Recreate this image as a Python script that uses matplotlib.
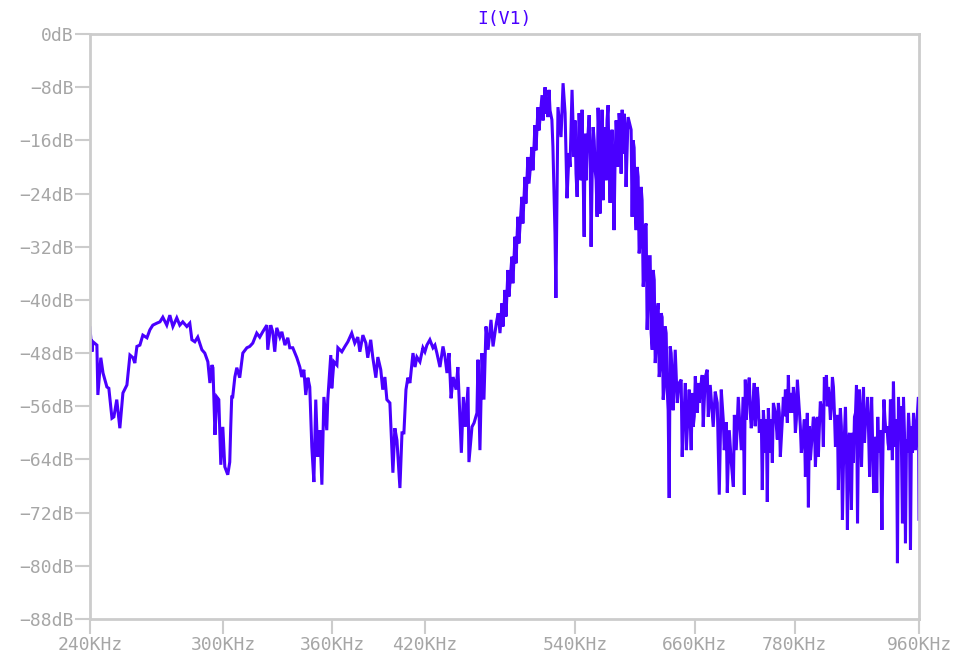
import numpy as np
import matplotlib.pyplot as plt

# FFT of I(V1): frequency in kHz, magnitude in dB
freq_khz = [
    240.0, 240.8, 241.2, 242.8, 243.2, 244.4, 245.3, 246.9, 247.7, 249.0,
    249.8, 251.0, 252.3, 253.6, 255.3, 256.6, 257.9, 258.7, 259.6, 260.9,
    262.2, 264.0, 265.3, 266.6, 268.4, 269.8, 271.1, 272.9, 274.3, 275.7,
    277.5, 278.9, 280.3, 282.2, 283.6, 284.6, 286.0, 287.4, 289.4, 290.8,
    292.3, 293.3, 294.3, 294.8, 295.8, 296.7, 297.7, 298.7, 299.7, 300.7,
    302.2, 303.2, 303.7, 304.2, 304.7, 305.8, 306.8, 308.3, 309.9, 312.0,
    313.5, 315.1, 317.2, 318.8, 320.4, 322.6, 323.1, 324.7, 325.8, 326.9,
    328.0, 329.7, 330.8, 332.5, 334.1, 335.2, 336.9, 339.2, 340.9, 342.0,
    343.2, 344.3, 345.5, 346.6, 347.8, 349.0, 350.1, 351.3, 352.5, 353.7,
    354.9, 356.6, 357.2, 359.0, 359.6, 360.9, 362.7, 363.3, 365.7, 367.6,
    369.4, 371.8, 373.7, 375.6, 376.9, 378.8, 380.7, 381.9, 383.8, 385.1,
    387.1, 388.4, 390.3, 391.6, 393.0, 394.3, 396.3, 398.3, 399.6, 401.0,
    403.0, 404.4, 405.7, 407.1, 408.4, 409.8, 411.9, 413.3, 414.6, 416.7,
    418.8, 420.2, 421.6, 423.7, 425.9, 427.3, 428.7, 430.9, 433.1, 434.6,
    436.0, 437.5, 439.0, 440.5, 442.7, 444.0, 446.6, 448.1, 449.6, 451.6,
    452.3, 454.6, 456.2, 458.4, 459.2, 460.7, 462.3, 463.8, 465.4, 467.0,
    469.3, 470.9, 473.5, 475.0, 476.4, 478.0, 480.4, 482.8, 486.0, 488.5,
    490.9, 494.2, 496.7, 499.2, 502.6, 505.1, 507.7, 511.1, 513.7, 515.4,
    517.1, 519.6, 520.5, 522.3, 523.1, 524.9, 527.6, 529.4, 531.2, 532.9,
    534.7, 537.4, 539.2, 542.0, 543.8, 546.5, 548.4, 551.1, 553.0, 554.8,
    556.7, 558.6, 560.4, 561.3, 563.2, 565.1, 566.0, 567.9, 570.8, 572.7,
    574.6, 576.5, 579.5, 581.4, 584.4, 586.3, 588.2, 590.2, 593.2, 594.2,
    596.2, 598.2, 599.2, 601.2, 603.2, 605.3, 607.3, 609.3, 611.4, 614.5,
    615.5, 617.6, 619.6, 621.7, 624.8, 625.9, 629.0, 631.1, 632.2, 634.3,
    636.4, 638.6, 640.8, 642.8, 646.1, 648.3, 650.6, 652.6, 655.9, 658.1,
    661.6, 663.7, 665.9, 668.1, 669.2, 671.5, 673.7, 674.9, 677.1, 680.5,
    682.8, 685.1, 687.4, 689.7, 692.0, 693.2, 695.5, 696.7, 699.0, 701.4,
    703.8, 705.0, 707.2, 709.6, 713.2, 715.6, 716.8, 718.0, 720.4, 722.8,
    725.2, 727.6, 728.8, 731.3, 732.5, 735.0, 738.7, 740.0, 742.5, 744.9,
    746.2, 748.7, 751.2, 752.5, 756.3, 758.8, 761.3, 765.2, 767.8, 770.3,
    771.6, 775.5, 778.1, 780.7, 783.3, 785.9, 788.5, 791.2, 793.9, 796.5,
    797.9, 800.5, 804.5, 807.3, 810.0, 811.3, 814.0, 818.1, 819.5, 822.3,
    825.0, 827.8, 830.6, 832.0, 834.8, 837.5, 838.9, 841.7, 844.6, 846.0,
    848.9, 851.7, 853.1, 857.4, 860.3, 861.8, 864.7, 866.2, 869.0, 872.0,
    874.9, 876.4, 879.4, 880.9, 883.9, 886.9, 889.9, 891.5, 894.5, 896.0,
    899.2, 902.3, 905.3, 908.4, 911.5, 913.0, 915.2, 918.2, 919.8, 922.9,
    926.0, 927.6, 930.7, 933.8, 935.4, 938.5, 941.7, 943.3, 946.4, 949.6,
    951.2, 954.3, 957.5, 959.1, 960.0,
]
level_db = [
    -44.2, -47.8, -46.3, -46.8, -54.3, -48.7, -51.0, -53.1, -53.3, -57.8,
    -57.6, -55.0, -59.3, -54.0, -52.8, -48.3, -48.7, -49.5, -47.0, -46.8,
    -45.3, -45.7, -44.5, -43.8, -43.5, -43.3, -42.6, -43.8, -42.3, -44.0,
    -42.7, -43.8, -43.3, -44.0, -43.5, -46.0, -46.3, -45.6, -47.5, -48.0,
    -49.3, -52.5, -49.8, -50.2, -60.3, -54.6, -55.0, -64.8, -59.1, -65.1,
    -66.3, -64.4, -59.1, -54.6, -54.6, -51.6, -50.2, -51.7, -48.0, -47.2,
    -47.0, -46.5, -45.0, -45.6, -44.8, -43.8, -47.5, -43.8, -44.8, -47.8,
    -44.2, -45.6, -44.8, -46.8, -45.7, -47.2, -47.2, -48.7, -50.1, -51.6,
    -50.5, -54.3, -51.7, -53.1, -62.1, -67.4, -55.0, -63.6, -59.6, -67.8,
    -54.6, -59.6, -55.0, -48.3, -53.3, -49.3, -49.8, -47.2, -47.8, -47.0,
    -46.3, -45.0, -46.5, -45.6, -47.8, -45.3, -46.5, -48.7, -46.0, -48.6,
    -51.7, -48.6, -50.5, -53.5, -51.6, -55.0, -55.5, -66.0, -59.3, -61.1,
    -68.3, -60.0, -60.0, -53.5, -51.7, -52.5, -48.0, -50.1, -48.6, -49.3,
    -47.2, -47.8, -46.8, -46.0, -47.2, -46.8, -48.0, -50.1, -47.0, -48.6,
    -51.0, -48.0, -54.8, -51.6, -53.5, -50.1, -63.0, -54.6, -59.1, -53.1,
    -64.4, -59.1, -58.5, -57.0, -49.0, -62.6, -48.0, -55.0, -44.0, -47.5,
    -43.0, -47.0, -43.5, -42.0, -45.0, -40.5, -38.5, -35.5, -33.5, -30.5,
    -27.5, -24.5, -21.5, -18.5, -17.0, -13.7, -11.0, -9.2, -8.0, -9.6,
    -8.4, -12.9, -17.0, -30.0, -39.7, -11.0, -15.5, -7.4, -11.9, -24.7,
    -17.9, -8.4, -18.5, -24.5, -11.9, -11.4, -30.5, -17.5, -12.2, -32.0,
    -14.0, -20.5, -27.5, -11.1, -27.0, -11.4, -25.0, -14.0, -10.7, -25.4,
    -14.4, -29.5, -15.9, -11.9, -11.4, -12.0, -23.0, -12.5, -14.4, -27.5,
    -17.1, -29.5, -20.0, -33.0, -23.0, -38.0, -29.0, -44.5, -33.5, -47.5,
    -35.5, -49.5, -42.0, -51.6, -42.6, -55.0, -45.0, -56.6, -69.8, -48.0,
    -56.6, -47.5, -55.5, -52.5, -63.6, -56.6, -62.6, -56.6, -62.6, -59.1,
    -54.6, -52.5, -53.5, -51.3, -59.1, -51.6, -50.5, -57.6, -52.8, -59.1,
    -53.8, -55.5, -69.3, -53.5, -58.0, -62.6, -58.4, -69.0, -59.6, -64.5,
    -68.1, -57.3, -62.6, -54.6, -62.6, -54.6, -69.3, -52.0, -54.6, -51.7,
    -59.3, -54.8, -52.5, -56.6, -53.1, -60.0, -68.6, -56.6, -63.0, -70.4,
    -56.3, -63.0, -64.5, -55.5, -59.1, -55.5, -63.6, -54.6, -53.5, -58.5,
    -51.3, -54.0, -53.1, -60.0, -52.0, -56.6, -63.0, -60.0, -66.6, -57.0,
    -71.2, -64.1, -57.6, -65.1, -57.6, -63.6, -55.3, -62.1, -51.6, -51.3,
    -53.1, -58.0, -51.6, -53.1, -62.1, -57.3, -68.6, -56.3, -73.1, -65.1,
    -56.1, -74.6, -61.1, -71.6, -64.5, -57.6, -52.8, -73.6, -53.5, -65.1,
    -53.1, -61.5, -57.6, -54.6, -66.6, -54.6, -69.0, -60.6, -69.0, -57.6,
    -59.6, -74.6, -55.0, -60.0, -61.5, -62.6, -55.0, -64.1, -52.3, -62.1,
    -79.6, -54.6, -56.0, -73.6, -54.6, -76.6, -63.0, -57.0, -77.6, -63.0,
    -57.0, -62.6, -57.0, -54.6, -73.0,
]

# extra bins inside the densely packed parts (rising edge, passband, skirt, floor)
dense_khz = [
    478.8, 481.2, 483.6, 486.8, 489.3, 491.7, 495.0, 497.5, 500.1, 503.4,
    505.9, 508.5, 512.0, 514.6, 516.2, 518.0,
    535.6, 536.5, 540.1, 541.0, 544.7, 545.6, 549.3, 550.2, 553.9, 555.8,
    557.7, 559.5, 562.3, 564.1, 567.0, 568.9, 569.8, 571.7, 573.6, 575.6,
    577.5, 578.5, 580.4, 582.4, 583.4, 585.3, 587.3,
    595.2, 597.2, 600.2, 602.2, 604.2, 606.3, 608.3, 610.3, 612.4, 613.4,
    616.6, 618.6, 620.7, 622.7, 623.7, 626.9, 628.0, 630.1, 633.2, 635.4,
    645.0, 647.2, 649.5, 651.6, 653.7, 654.8, 657.0, 659.3, 660.4, 662.7,
    664.8,
    719.2, 724.0, 726.4, 730.0, 733.7, 737.5, 741.2, 743.7, 747.4, 749.9,
    755.0, 757.5, 760.0, 763.9, 766.5, 769.0, 772.9, 776.8, 779.4, 782.0,
    787.2, 792.5, 795.2, 799.2, 803.2, 805.9, 808.6, 812.7, 816.8, 821.0,
    823.6, 826.4, 829.2, 833.4, 836.2, 840.3, 843.1, 847.5, 850.3, 854.6,
    858.9, 863.3, 867.6, 870.4, 873.4, 877.9, 882.4, 885.1, 888.4, 893.0,
    897.6, 900.0, 903.9, 906.9, 910.0, 914.6, 916.7, 921.4, 924.5, 929.1,
    932.2, 936.9, 940.1, 944.9, 948.0, 952.7, 955.9,
]
dense_db = [
    -44.0, -42.5, -39.5, -37.5, -34.5, -31.5, -28.5, -25.5, -22.5, -20.5,
    -17.5, -14.5, -13.0, -12.0, -12.5, -11.5,
    -20.0, -14.0, -13.0, -21.0, -16.0, -22.0, -15.0, -22.0, -18.0, -21.0,
    -16.0, -22.0, -16.0, -20.0, -18.0, -22.0, -13.0, -20.0, -18.0, -21.0,
    -19.0, -13.0, -20.0, -14.0, -21.0, -18.0, -14.0,
    -16.0, -26.0, -21.5, -31.5, -25.0, -36.0, -28.5, -40.0, -33.5, -45.0,
    -37.0, -47.0, -40.5, -50.0, -42.0, -53.0, -44.0, -53.5, -47.0, -52.0,
    -52.0, -58.5, -52.5, -59.5, -53.5, -58.0, -54.0, -57.5, -51.5, -57.0,
    -55.5,
    -58.0, -57.0, -57.5, -59.0, -55.0, -58.0, -59.0, -58.0, -60.0, -58.0,
    -57.0, -61.0, -57.0, -58.0, -57.5, -55.0, -57.0, -57.0, -55.0, -58.0,
    -59.0, -58.0, -61.0, -59.0, -60.0, -58.0, -61.0, -59.0, -57.0, -55.0,
    -56.0, -55.0, -56.0, -57.0, -60.0, -60.0, -59.0, -60.0, -63.0, -60.0,
    -60.0, -57.0, -60.0, -57.0, -59.0, -58.0, -60.0, -60.0, -62.0, -62.0,
    -63.0, -60.0, -62.0, -58.0, -59.0, -58.0, -59.0, -60.0, -58.0, -60.0,
    -62.0, -60.0, -61.0, -60.0, -59.0, -60.0, -59.0,
]

x_ticks = [240, 300, 360, 420, 540, 660, 780, 960]
y_ticks = list(range(0, -89, -8))

trace_color = "#4a00ff"
axis_color = "#cccccc"
label_color = "#a6a6a6"
mono = "DejaVu Sans Mono"

# merge both bin lists into one trace ordered by frequency
f_all = np.array(freq_khz + dense_khz)
db_all = np.array(level_db + dense_db)
order = np.argsort(f_all, kind="stable")

fig = plt.figure(figsize=(9.59, 6.63), dpi=100)
ax = fig.add_axes([0.0938, 0.0664, 0.8645, 0.8823])

ax.plot(f_all[order], db_all[order], color=trace_color, lw=2.2,
        solid_joinstyle="miter")

ax.set_xscale("log")
ax.set_xlim(240, 960)
ax.set_ylim(-88, 0)
ax.minorticks_off()
ax.set_xticks(x_ticks)
ax.set_xticklabels([f"{v}KHz" for v in x_ticks])
ax.set_yticks(y_ticks)
ax.set_yticklabels([f"{v}dB".replace("-", "\u2212") for v in y_ticks])

for sp in ax.spines.values():
    sp.set_color(axis_color)
    sp.set_linewidth(2)
ax.tick_params(axis="both", direction="out", length=10.5, width=1.5,
               color=axis_color, labelcolor=label_color, labelsize=13)
ax.tick_params(axis="x", pad=2)
ax.tick_params(axis="y", pad=1)
for lbl in ax.get_xticklabels() + ax.get_yticklabels():
    lbl.set_family(mono)

ax.set_title("I(V1)", color=trace_color, family=mono, fontsize=13, pad=7)

fig.savefig("out.png", dpi=100)
